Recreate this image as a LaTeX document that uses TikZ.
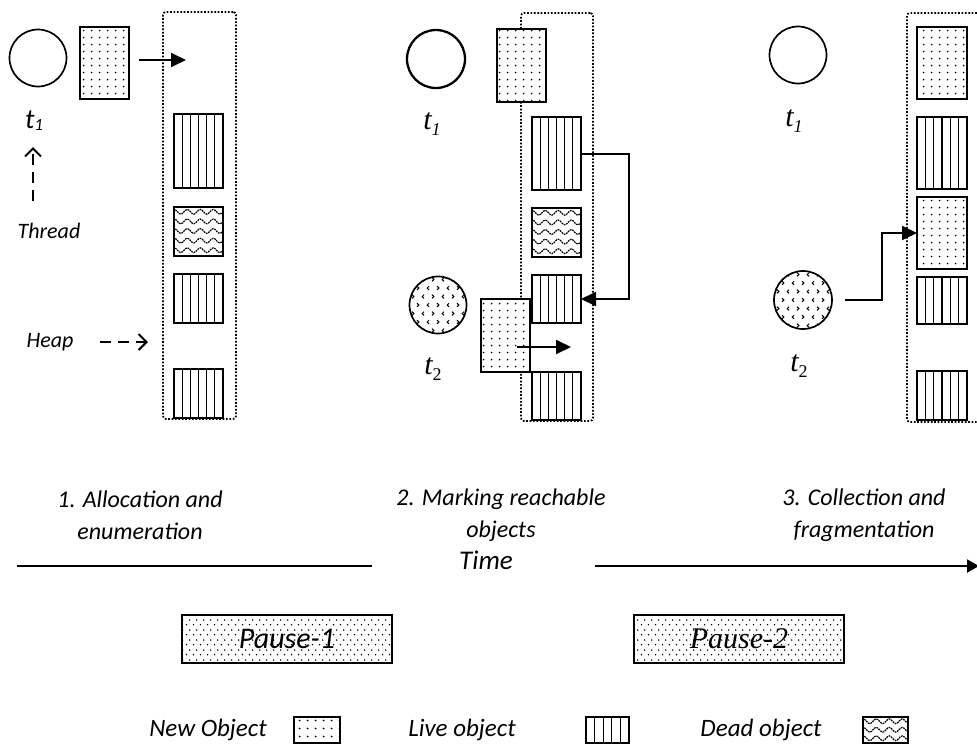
\documentclass[tikz,border=0pt]{standalone}
\usepackage{fontspec}
\setmainfont{Carlito}
\newfontfamily\serifit{Liberation Serif}
\usetikzlibrary{arrows.meta,patterns.meta,calc}

% sparse dots for new objects
\tikzdeclarepattern{
  name=newdots,
  type=uncolored,
  bounding box={(0,0) and (8pt,7.4pt)},
  tile size={(8pt,7.4pt)},
  code={\fill (4pt,3.7pt) circle (1pt);}
}
% staggered dots for the pause bars
\tikzdeclarepattern{
  name=pausedots,
  type=uncolored,
  bounding box={(0,0) and (6.6pt,10pt)},
  tile size={(6.6pt,10pt)},
  code={
    \fill (1.65pt,2.5pt) circle (0.9pt);
    \fill (4.95pt,7.5pt) circle (0.9pt);
  }
}

\begin{document}
\begin{tikzpicture}[x=1pt,y=-1pt,
  objframe/.style={draw, line width=1.7pt, inner sep=0pt, outer sep=0pt},
  newobj/.style={objframe, preaction={fill=white}, pattern=newdots},
  liveobj/.style={objframe, fill=white, path picture={
      \foreach \i in {1,...,#1} {
        \draw[line width=1.3pt]
          ($(path picture bounding box.north west)!{\i/(#1+1)}!(path picture bounding box.north east)$) --
          ($(path picture bounding box.south west)!{\i/(#1+1)}!(path picture bounding box.south east)$);
      }}},
  liveobj/.default=5,
  deadobj/.style 2 args={objframe, fill=white, path picture={
      \foreach \k in {1,...,#1} {
        \draw[line width=1.2pt, dash pattern=on 1.8pt off 0.8pt]
          ([shift={(-3,{(\k-0.5)*#2})}]path picture bounding box.north west)
          \foreach \p in {1,...,5} {
            sin ++(3.25,-2.4) cos ++(3.25,2.4) sin ++(3.25,2.4) cos ++(3.25,-2.4)
          };
      }}},
  thrcirc/.style={draw, circle, line width=1.7pt, inner sep=0pt, minimum size=57pt},
  activecirc/.style={thrcirc, path picture={
      \foreach \j in {-3,...,3} \foreach \i in {-3,...,3} {
        \pgfmathsetmacro\cx{\i*10+Mod(\j,2)*5}
        \pgfmathsetmacro\cy{\j*8.5}
        \pgfmathsetmacro\sg{Mod(\i+\j,2)*2-1}
        \draw[line width=1pt]
          ([shift={({\cx+1*\sg},{\cy-1.8})}]path picture bounding box.center)
          -- ++({-1.8*\sg},1.8) -- ++({1.8*\sg},1.8);
      }}},
  heap/.style={draw, line width=1.7pt, dash pattern=on 1.7pt off 1.7pt,
               rounded corners=3pt, inner sep=0pt},
  conn/.style={line width=2pt, -{Triangle[length=15pt,width=14pt]}},
  dasharr/.style={line width=2pt, dash pattern=on 11pt off 7pt,
                  -{Straight Barb[length=8pt,width=16pt]}},
  lbl/.style={font=\fontsize{22}{26}\selectfont\itshape},
  stage/.style={font=\fontsize{24}{32}\selectfont\itshape, align=center},
  legend/.style={font=\fontsize{25}{28}\selectfont\itshape},
  tsans/.style={font=\fontsize{28}{30}\selectfont\itshape},
  tserif/.style={font=\fontsize{30}{32}\selectfont\serifit\itshape},
  pausebar/.style={draw, line width=1.3pt, pattern=pausedots, inner sep=0pt,
                   minimum width=210pt, minimum height=48pt}
]
\useasboundingbox (0,0) rectangle (977,747);
\clip (0,0) rectangle (977,747);

% ---------- 1. Allocation and enumeration ----------
\node[heap, minimum width=73pt, minimum height=407pt] (h1) at (199.5,215.5) {};
\node[thrcirc] (a1) at (38,58) {};
\node[newobj, minimum width=49pt, minimum height=72pt] (n1) at (104.5,63) {};
\node[liveobj, minimum width=49pt, minimum height=74pt] (l1a) at (198.5,151) {};
\node[deadobj={5}{9.6}, minimum width=49pt, minimum height=49pt] (d1) at (198.5,231.5) {};
\node[liveobj, minimum width=49pt, minimum height=49pt] (l1b) at (198.5,298.5) {};
\node[liveobj, minimum width=49pt, minimum height=49pt] (l1c) at (198.5,393.5) {};
\node[tsans] (t11) at (34,121) {t\raisebox{-2pt}{\fontsize{17}{17}\selectfont 1}};
\node[lbl] (thread) at (49,231) {Thread};
\node[lbl] (heaplbl) at (50,342) {Heap};
\coordinate (alloc) at (186,60);
\draw[conn] ([xshift=10pt,yshift=3pt]n1.east) -- (alloc);
\coordinate (thrtail) at (33,201);
\coordinate (thrtip) at (33,147);
\draw[dasharr] (thrtail) -- (thrtip);
\coordinate (heaptail) at (100,342);
\coordinate (heaptip) at (148,342);
\draw[dasharr] (heaptail) -- (heaptip);

% ---------- 2. Marking reachable objects ----------
\node[heap, minimum width=72pt, minimum height=408pt] (h2) at (557,217) {};
\node[thrcirc, line width=2.3pt, minimum size=58pt] (a2) at (436,59) {};
\node[activecirc] (b2) at (438,305) {};
\node[newobj, minimum width=49pt, minimum height=73pt] (n2a) at (521.5,65.5) {};
\node[liveobj, minimum width=49pt, minimum height=73pt] (l2a) at (556.5,153.5) {};
\node[deadobj={5}{9.6}, minimum width=49pt, minimum height=49pt] (d2) at (556.5,232.5) {};
\node[liveobj, minimum width=49pt, minimum height=48pt] (l2b) at (556.5,299) {};
\node[liveobj, minimum width=49pt, minimum height=48pt] (l2c) at (556.5,396) {};
\node[newobj, minimum width=49pt, minimum height=73pt] (n2b) at (505.5,335.5) {};
\node[tserif] (t21) at (432,124) {t\raisebox{-6pt}{\fontsize{18}{18}\selectfont 1}};
\node[tserif] (t22) at (433,369) {t\raisebox{-6pt}{\fontsize{18}{18}\selectfont\upshape 2}};
\coordinate (mark2) at (629,230);
\draw[conn] (l2a.east) -| (mark2) |- (l2b.east);
\coordinate (alloc2) at (571,347);
\draw[conn] ([xshift=11.5pt,yshift=-11.5pt]n2b.center) -- (alloc2);

% ---------- 3. Collection and fragmentation ----------
\node[heap, minimum width=83pt, minimum height=409pt] (h3) at (948.5,217.5) {};
\node[thrcirc] (a3) at (798,55) {};
\node[activecirc, minimum size=58pt] (b3) at (803,300) {};
\node[newobj, minimum width=50pt, minimum height=72pt] (n3a) at (942,63) {};
\node[liveobj, minimum width=50pt, minimum height=72pt] (l3a) at (942,153) {};
\node[newobj, minimum width=50pt, minimum height=72pt] (n3b) at (942,233) {};
\node[liveobj, minimum width=50pt, minimum height=47pt] (l3b) at (942,300.5) {};
\node[liveobj, minimum width=50pt, minimum height=49pt] (l3c) at (942,395.5) {};
\node[tserif] (t31) at (794,121) {t\raisebox{-6pt}{\fontsize{18}{18}\selectfont 1}};
\node[tserif] (t32) at (799,366) {t\raisebox{-6pt}{\fontsize{18}{18}\selectfont\upshape 2}};
\coordinate (mark3) at (882,270);
\draw[conn] ([xshift=12pt]b3.east) -| (mark3) |- (n3b.west);

% ---------- stage captions ----------
\node[stage] (s1) at (140,515) {1. Allocation and\\enumeration};
\node[stage] (s2) at (501,515) {2. Marking reachable\\objects};
\node[stage] (s3) at (864,515) {3. Collection and\\fragmentation};

% ---------- time axis ----------
\node[font=\fontsize{27}{30}\selectfont\itshape] (time) at (486,560) {Time};
\coordinate (tl0) at (17,566);
\coordinate (tl1) at (372,566);
\coordinate (tr0) at (595,566);
\coordinate (tr1) at (979,566);
\draw[line width=2pt] (tl0) -- (tl1);
\draw[line width=2pt, -{Triangle[length=12pt,width=13pt]}] (tr0) -- (tr1);

% ---------- pauses ----------
\node[pausebar, font=\fontsize{30}{32}\selectfont\itshape] (pause1) at (287,639) {Pause-1};
\node[pausebar, font=\fontsize{30}{32}\selectfont\serifit\itshape] (pause2) at (739,639) {Pause-2};

% ---------- legend ----------
\node[legend] (kn) at (208,730) {New Object};
\node[newobj, minimum width=46pt, minimum height=26pt] (kbn) at (317,730) {};
\node[legend] (kl) at (462,730) {Live object};
\node[liveobj=4, minimum width=43pt, minimum height=26pt] (kbl) at (607.5,730) {};
\node[legend] (kd) at (761,730) {Dead object};
\node[deadobj={3}{8.5}, minimum width=45pt, minimum height=26pt] (kbd) at (885.5,730) {};
\end{tikzpicture}
\end{document}
